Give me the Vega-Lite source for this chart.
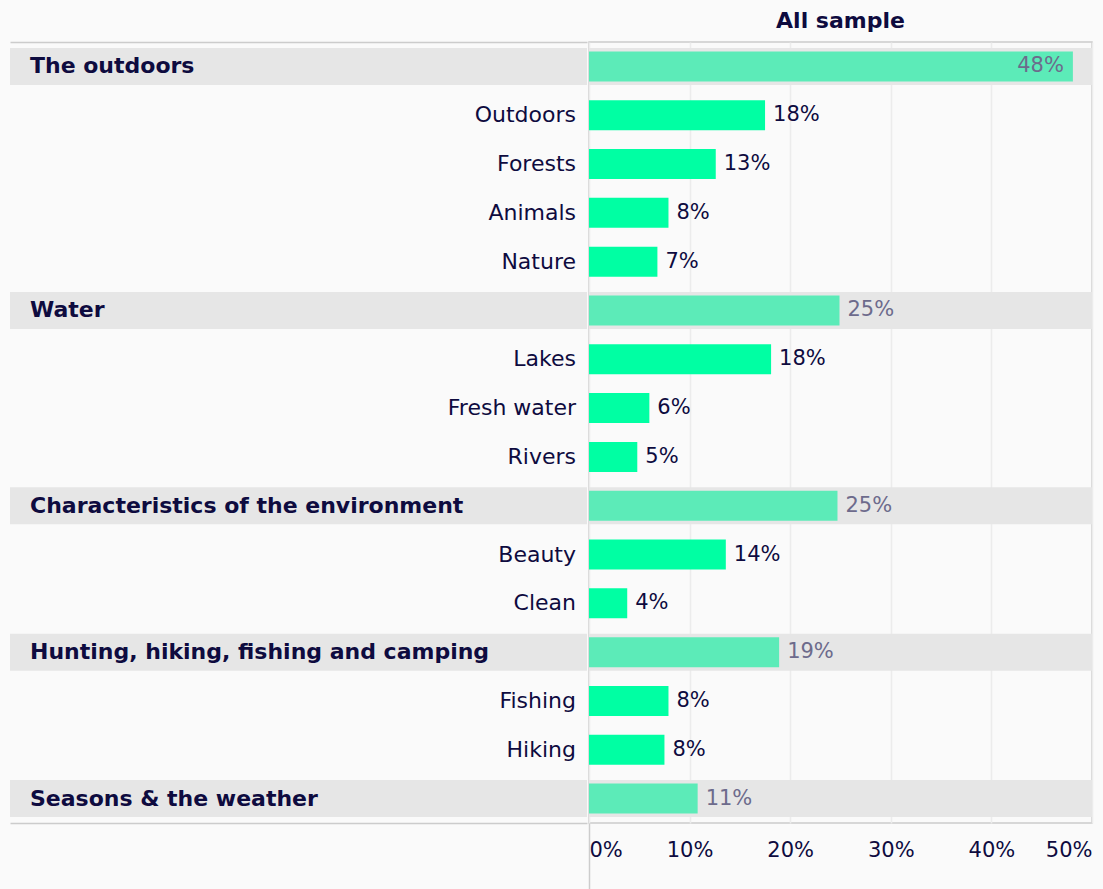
{
  "$schema": "https://vega.github.io/schema/vega-lite/v6.json",
  "background": "#fafafa",
  "padding": {"left": 10, "top": 9, "right": 13, "bottom": 0},
  "spacing": 0,
  "config": {"font": "DejaVu Sans", "view": {"stroke": null}},
  "datasets": {
    "rows": [
      {"item": "The outdoors", "type": "cat", "value": 48.1, "label": "48%"},
      {"item": "Outdoors", "type": "sub", "value": 17.5, "label": "18%"},
      {"item": "Forests", "type": "sub", "value": 12.6, "label": "13%"},
      {"item": "Animals", "type": "sub", "value": 7.9, "label": "8%"},
      {"item": "Nature", "type": "sub", "value": 6.8, "label": "7%"},
      {"item": "Water", "type": "cat", "value": 24.9, "label": "25%"},
      {"item": "Lakes", "type": "sub", "value": 18.1, "label": "18%"},
      {"item": "Fresh water", "type": "sub", "value": 6.0, "label": "6%"},
      {"item": "Rivers", "type": "sub", "value": 4.8, "label": "5%"},
      {"item": "Characteristics of the environment", "type": "cat", "value": 24.7, "label": "25%"},
      {"item": "Beauty", "type": "sub", "value": 13.6, "label": "14%"},
      {"item": "Clean", "type": "sub", "value": 3.8, "label": "4%"},
      {"item": "Hunting, hiking, fishing and camping", "type": "cat", "value": 18.9, "label": "19%"},
      {"item": "Fishing", "type": "sub", "value": 7.9, "label": "8%"},
      {"item": "Hiking", "type": "sub", "value": 7.5, "label": "8%"},
      {"item": "Seasons & the weather", "type": "cat", "value": 10.8, "label": "11%"}
    ]
  },
  "data": {"name": "rows"},
  "hconcat": [
    {
      "width": 577,
      "height": 781,
      "title": {"text": "All sample", "fontSize": 22, "color": "transparent", "offset": 9},
      "encoding": {
        "y": {
          "field": "item", "type": "nominal", "axis": null,
          "scale": {"domain": ["The outdoors", "Outdoors", "Forests", "Animals", "Nature", "Water", "Lakes", "Fresh water", "Rivers", "Characteristics of the environment", "Beauty", "Clean", "Hunting, hiking, fishing and camping", "Fishing", "Hiking", "Seasons & the weather"], "paddingInner": 0, "paddingOuter": 0}
        }
      },
      "layer": [
        {
          "transform": [{"filter": "datum.type === 'cat'"}],
          "mark": {"type": "bar", "color": "#e6e6e6", "height": 37},
          "encoding": {
            "x": {"datum": 0, "type": "quantitative", "scale": {"domain": [0, 1], "nice": false},
              "axis": {"orient": "top", "labels": false, "ticks": false, "grid": false, "title": null, "domainColor": "#cccccc", "domainWidth": 1.5}},
            "x2": {"datum": 1}
          }
        },
        {
          "transform": [{"filter": "datum.type === 'cat'"}],
          "mark": {"type": "text", "align": "left", "baseline": "middle", "dx": 20, "fontSize": 22, "fontWeight": "bold", "color": "#0e0b3f"},
          "encoding": {
            "x": {"datum": 0, "type": "quantitative", "scale": {"domain": [0, 1], "nice": false},
              "axis": {"orient": "bottom", "labels": false, "ticks": false, "grid": false, "title": null, "domainColor": "#cccccc", "domainWidth": 1.5}},
            "text": {"field": "item"}
          }
        },
        {
          "transform": [{"filter": "datum.type === 'sub'"}],
          "mark": {"type": "text", "align": "right", "baseline": "middle", "dx": -11, "fontSize": 22, "color": "#0e0b3f"},
          "encoding": {
            "x": {"datum": 1, "type": "quantitative", "scale": {"domain": [0, 1], "nice": false}, "axis": null},
            "text": {"field": "item"}
          }
        }
      ],
      "resolve": {"scale": {"x": "independent"}, "axis": {"x": "independent"}}
    },
    {
      "width": 503,
      "height": 781,
      "view": {"stroke": "#cccccc", "strokeWidth": 1.5},
      "title": {"text": "All sample", "fontSize": 22, "fontWeight": "bold", "color": "#0e0b3f", "anchor": "middle", "offset": 9},
      "encoding": {
        "y": {
          "field": "item", "type": "nominal", "axis": null,
          "scale": {"domain": ["The outdoors", "Outdoors", "Forests", "Animals", "Nature", "Water", "Lakes", "Fresh water", "Rivers", "Characteristics of the environment", "Beauty", "Clean", "Hunting, hiking, fishing and camping", "Fishing", "Hiking", "Seasons & the weather"], "paddingInner": 0, "paddingOuter": 0}
        }
      },
      "layer": [
        {
          "transform": [{"filter": "datum.type === 'cat'"}],
          "mark": {"type": "bar", "color": "#e6e6e6", "height": 37},
          "encoding": {
            "x": {"datum": 0, "type": "quantitative", "scale": {"domain": [0, 50], "nice": false},
              "axis": {
                "orient": "bottom", "values": [0, 10, 20, 30, 40, 50], "labelExpr": "datum.value + '%'",
                "labelFlush": true, "labelFontSize": 21, "labelColor": "#0e0b3f", "labelPadding": -51,
                "grid": true, "gridColor": "#ececec", "gridWidth": 1.5,
                "ticks": true, "tickSize": 67, "tickWidth": 1.5,
                "tickColor": {"condition": {"test": "datum.value === 0", "value": "#cccccc"}, "value": "transparent"},
                "domain": false, "title": null
              }
            },
            "x2": {"datum": 50}
          }
        },
        {
          "mark": {"type": "bar", "height": 30},
          "encoding": {
            "x": {"field": "value", "type": "quantitative"},
            "color": {"condition": {"test": "datum.type === 'cat'", "value": "#5cebb8"}, "value": "#00ffa3"}
          }
        },
        {
          "transform": [{"filter": "datum.value < 40"}],
          "mark": {"type": "text", "align": "left", "baseline": "middle", "dx": 8, "fontSize": 21},
          "encoding": {
            "x": {"field": "value", "type": "quantitative"},
            "text": {"field": "label"},
            "color": {"condition": {"test": "datum.type === 'cat'", "value": "#6d6b8c"}, "value": "#0e0b3f"}
          }
        },
        {
          "transform": [{"filter": "datum.value >= 40"}],
          "mark": {"type": "text", "align": "right", "baseline": "middle", "dx": -9, "fontSize": 21},
          "encoding": {
            "x": {"field": "value", "type": "quantitative"},
            "text": {"field": "label"},
            "color": {"condition": {"test": "datum.type === 'cat'", "value": "#6d6b8c"}, "value": "#0e0b3f"}
          }
        }
      ]
    }
  ]
}
